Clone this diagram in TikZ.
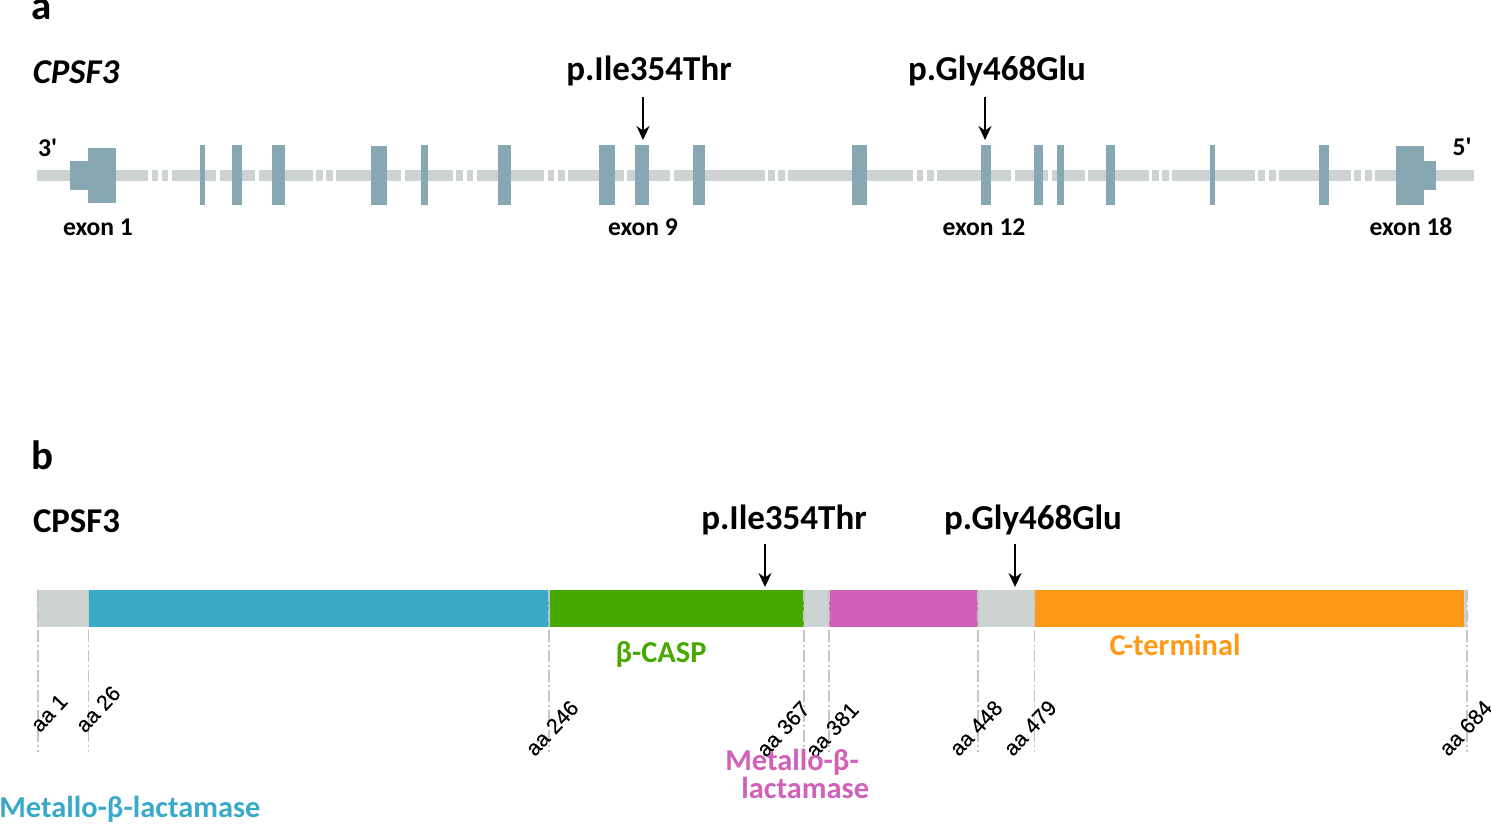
\documentclass[tikz,border=0pt]{standalone}
\usepackage{fontspec}
\setmainfont{Carlito}
\newfontfamily\arialf[FakeBold=0.25]{Liberation Sans}
\newfontfamily\plainf{Carlito}
\definecolor{exonc}{HTML}{87A8B2}
\definecolor{backc}{HTML}{CDD3D2}
\definecolor{bluec}{HTML}{3AAAC9}
\definecolor{greenc}{HTML}{47A800}
\definecolor{magc}{HTML}{D160B8}
\definecolor{orangec}{HTML}{FF9A16}
\definecolor{dashc}{HTML}{C4C4C4}
\usetikzlibrary{arrows.meta}
\tikzset{
 panel/.style={font=\fontsize{20.5}{24}\selectfont\bfseries,inner sep=0pt},
 name text/.style={font=\fontsize{17.4}{20}\selectfont\bfseries,inner sep=0pt},
 mut text/.style={font=\fontsize{17.5}{20}\selectfont\bfseries,inner sep=0pt},
 exon text/.style={font=\fontsize{12.8}{14}\selectfont\bfseries,inner sep=0pt},
 dom text/.style={font=\fontsize{15.2}{12.2}\selectfont\bfseries,inner sep=0pt},
 aa text/.style={font=\arialf\fontsize{10.8}{12}\selectfont,inner sep=0pt,rotate=47},
 pointer/.style={draw=black,line width=1pt,-{Stealth[length=7pt,width=6.5pt]}},
 guide/.style={draw=dashc,line width=0.7pt,dash pattern=on 6pt off 1.5pt on 1pt off 1.5pt},
}
\begin{document}
\begin{tikzpicture}[x=0.5pt,y=-0.5pt]
\useasboundingbox (0,0) rectangle (1491,823);
% backbone
\foreach \a/\b in {37/148,151.7/158,161.7/168.3,172/216,219.7/255,258.7/312.7,316/322.7,326/332.7,336.3/401,404.7/453,456.3/463.3,466.7/473.3,477/544.3,547.7/554.3,557.7/564.7,568/624,627.3/670.3,674/764.7,768/775,778/785,788.3/913,916.7/923.3,926.7/933.7,937/1011,1014.7/1048,1051.7/1084.7,1088/1148.7,1152/1158.7,1162/1169,1172.3/1255,1258.3/1265.3,1268.7/1275.7,1279/1351,1354.3/1361.3,1364.7/1371.7,1375/1474.3}
  \fill[backc] (\a,170) rectangle (\b,181);
% exons
\foreach \a/\b in {200.3/205.3,232/241.7,272/284.7,421/428.3,498.3/510.7,599.3/615,635.3/648.7,692.7/704.7,852/867.3,981/990.7,1034/1043.3,1057.3/1064,1106/1115.3,1210/1215,1318.7/1329.3}
  \fill[exonc] (\a,145.3) rectangle (\b,205.5);
\fill[exonc] (371.3,146) rectangle (386.7,204.7);
\fill[exonc] (69.7,161) rectangle (88,189.7);
\fill[exonc] (87.7,147.7) rectangle (115.7,202.7);
\fill[exonc] (1396,146) rectangle (1424,204.7);
\fill[exonc] (1423.7,161) rectangle (1436,189.7);
% protein bar
\fill[backc] (37,589.7) rectangle (1467,626.7);
\fill[bluec] (89,589.7) rectangle (549,626.7);
\fill[greenc] (549.5,589.7) rectangle (803.5,626.7);
\fill[magc] (829,589.7) rectangle (977.5,626.7);
\fill[orangec] (1034.5,589.7) rectangle (1464,626.7);
% guides
\foreach \n/\x in {a/38,b/88.5,c/549,d/804,e/829,f/978,g/1034.5,h/1467}{
  \coordinate (gt\n) at (\x,590);
  \coordinate (gb\n) at (\x,752);
  \draw[guide] (gt\n) -- (gb\n);
}
% text
\node[panel] (pa) at (42,10) {a};
\node[panel] (pb) at (42,455) {b};
\node[name text,font=\fontsize{17.4}{20}\selectfont\bfseries\itshape] (gene) at (76,72) {CPSF3};
\node[name text] (prot) at (76.5,521) {CPSF3};
\node[mut text] (m1) at (649,71) {p.Ile354Thr};
\node[mut text] (m2) at (997,71) {p.Gly468Glu};
\node[mut text] (m3) at (784,520) {p.Ile354Thr};
\node[mut text] (m4) at (1033,520) {p.Gly468Glu};
\node[exon text,font=\plainf\fontsize{12.8}{14}\selectfont\bfseries] (e3) at (47.5,148) {3'};
\node[exon text,font=\plainf\fontsize{12.8}{14}\selectfont\bfseries] (e5) at (1462,147) {5'};
\node[exon text] (x1) at (98,227) {exon 1};
\node[exon text] (x9) at (643,227) {exon 9};
\node[exon text] (x12) at (984,227) {exon 12};
\node[exon text] (x18) at (1411,227) {exon 18};
% arrows
\coordinate (a1s) at (643,97); \coordinate (a1e) at (643,140);
\coordinate (a2s) at (985,97); \coordinate (a2e) at (985,140);
\coordinate (a3s) at (765,544); \coordinate (a3e) at (765,587);
\coordinate (a4s) at (1015,544); \coordinate (a4e) at (1015,587);
\draw[pointer] (a1s) -- (a1e);
\draw[pointer] (a2s) -- (a2e);
\draw[pointer] (a3s) -- (a3e);
\draw[pointer] (a4s) -- (a4e);
% aa labels
\node[aa text] (l1) at (49,713) {aa 1};
\node[aa text] (l2) at (98,709) {aa 26};
\node[aa text] (l3) at (552,728) {aa 246};
\node[aa text] (l4) at (783,729) {aa 367};
\node[aa text] (l5) at (832,730) {aa 381};
\node[aa text] (l6) at (976,728) {aa 448};
\node[aa text] (l7) at (1030,728) {aa 479};
\node[aa text] (l8) at (1465.5,728) {aa 684};
% domain labels
\node[dom text,text=bluec,anchor=west] (d1) at (-1,809) {Metallo-β-lactamase};
\node[dom text,text=greenc] (d2) at (661,654) {β-CASP};
\node[dom text,text=magc,align=left,anchor=north west] (d3) at (725,749) {Metallo-β-\\\hspace*{8pt}lactamase};
\node[dom text,text=orangec] (d4) at (1175,645) {C-terminal};
\end{tikzpicture}
\end{document}
